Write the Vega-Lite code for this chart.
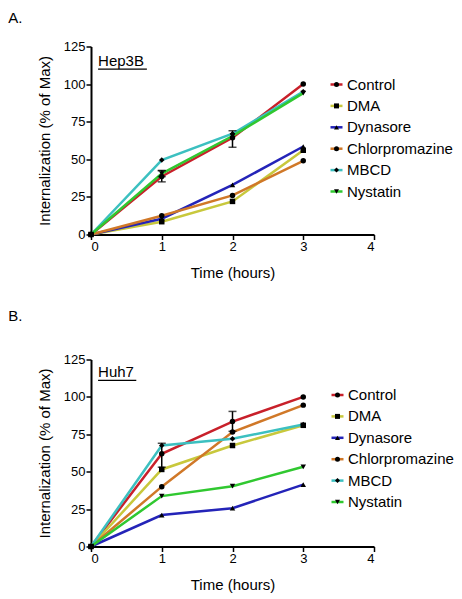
{
  "$schema": "https://vega.github.io/schema/vega-lite/v6.json",
  "padding": {"left": 8, "top": 10.5, "right": 0, "bottom": 0},
  "background": "white",
  "spacing": 28,
  "config": {
    "font": "Liberation Sans",
    "view": {"stroke": null},
    "axis": {
      "domainColor": "black", "domainWidth": 2, "tickColor": "black", "tickWidth": 1.5, "tickSize": 5,
      "labelColor": "black", "labelFontSize": 13, "labelFont": "Liberation Sans", "labelPadding": 1,
      "labelOverlap": false, "labelBound": false,
      "titleFontSize": 15, "titleFontWeight": "normal", "titleColor": "black", "titleFont": "Liberation Sans",
      "grid": false
    },
    "axisX": {"titlePadding": 12},
    "axisY": {"titlePadding": 11},
    "legend": {
      "labelFontSize": 15, "labelFont": "Liberation Sans", "labelColor": "black",
      "rowPadding": 5.4, "labelOffset": 3, "padding": 0, "title": null
    },
    "title": {"fontSize": 15, "fontWeight": "normal", "color": "black", "font": "Liberation Sans", "anchor": "start", "dx": -29}
  },
  "datasets": {
    "hep3b": [
      {"treatment": "Control", "t": 0, "v": 0}, {"treatment": "Control", "t": 1, "v": 38.6}, {"treatment": "Control", "t": 2, "v": 64.3}, {"treatment": "Control", "t": 3, "v": 100},
      {"treatment": "DMA", "t": 0, "v": 0}, {"treatment": "DMA", "t": 1, "v": 8.5}, {"treatment": "DMA", "t": 2, "v": 22}, {"treatment": "DMA", "t": 3, "v": 56},
      {"treatment": "Dynasore", "t": 0, "v": 0}, {"treatment": "Dynasore", "t": 1, "v": 10.5}, {"treatment": "Dynasore", "t": 2, "v": 33}, {"treatment": "Dynasore", "t": 3, "v": 58.5},
      {"treatment": "Chlorpromazine", "t": 0, "v": 0}, {"treatment": "Chlorpromazine", "t": 1, "v": 12.5}, {"treatment": "Chlorpromazine", "t": 2, "v": 26}, {"treatment": "Chlorpromazine", "t": 3, "v": 49},
      {"treatment": "MBCD", "t": 0, "v": 0}, {"treatment": "MBCD", "t": 1, "v": 49.5}, {"treatment": "MBCD", "t": 2, "v": 67}, {"treatment": "MBCD", "t": 3, "v": 95},
      {"treatment": "Nystatin", "t": 0, "v": 0}, {"treatment": "Nystatin", "t": 1, "v": 40.5}, {"treatment": "Nystatin", "t": 2, "v": 65.5}, {"treatment": "Nystatin", "t": 3, "v": 94}
    ],
    "huh7": [
      {"treatment": "Control", "t": 0, "v": 0}, {"treatment": "Control", "t": 1, "v": 62}, {"treatment": "Control", "t": 2, "v": 83.5}, {"treatment": "Control", "t": 3, "v": 100},
      {"treatment": "DMA", "t": 0, "v": 0}, {"treatment": "DMA", "t": 1, "v": 51.5}, {"treatment": "DMA", "t": 2, "v": 67.5}, {"treatment": "DMA", "t": 3, "v": 81},
      {"treatment": "Dynasore", "t": 0, "v": 0}, {"treatment": "Dynasore", "t": 1, "v": 21}, {"treatment": "Dynasore", "t": 2, "v": 25.6}, {"treatment": "Dynasore", "t": 3, "v": 41.4},
      {"treatment": "Chlorpromazine", "t": 0, "v": 0}, {"treatment": "Chlorpromazine", "t": 1, "v": 40}, {"treatment": "Chlorpromazine", "t": 2, "v": 76.5}, {"treatment": "Chlorpromazine", "t": 3, "v": 94.5},
      {"treatment": "MBCD", "t": 0, "v": 0}, {"treatment": "MBCD", "t": 1, "v": 67.5}, {"treatment": "MBCD", "t": 2, "v": 72}, {"treatment": "MBCD", "t": 3, "v": 81.5},
      {"treatment": "Nystatin", "t": 0, "v": 0}, {"treatment": "Nystatin", "t": 1, "v": 33.7}, {"treatment": "Nystatin", "t": 2, "v": 40.3}, {"treatment": "Nystatin", "t": 3, "v": 53.3}
    ],
    "errA": [
      {"treatment": "Control", "t": 1, "lo": 35, "hi": 42.5},
      {"treatment": "Control", "t": 2, "lo": 58, "hi": 69},
      {"treatment": "Nystatin", "t": 1, "lo": 38.5, "hi": 42.5}
    ],
    "errB": [
      {"treatment": "Control", "t": 1, "lo": 53, "hi": 69},
      {"treatment": "Control", "t": 2, "lo": 77, "hi": 90.3}
    ],
    "one": [{}]
  },
  "resolve": {
    "scale": {"color": "independent", "shape": "independent"},
    "legend": {"color": "independent", "shape": "independent"}
  },
  "vconcat": [
    {
      "title": {"text": "A.", "offset": 14.5},
      "width": 283, "height": 188,
      "layer": [
        {
          "data": {"name": "hep3b"},
          "mark": {"type": "line", "strokeWidth": 2.5},
          "encoding": {
            "x": {"field": "t", "type": "quantitative", "scale": {"domain": [0, 4], "nice": false}, "axis": {"values": [0, 1, 2, 3, 4], "format": "d", "title": "Time (hours)"}},
            "y": {"field": "v", "type": "quantitative", "scale": {"domain": [0, 125], "nice": false}, "axis": {"values": [0, 25, 50, 75, 100, 125], "title": "Internalization (% of Max)"}},
            "color": {"field": "treatment", "type": "nominal",
              "scale": {"domain": ["Control", "DMA", "Dynasore", "Chlorpromazine", "MBCD", "Nystatin"], "range": ["#c8202a", "#c8c83c", "#2424b8", "#d07828", "#3cc0c0", "#30c830"]},
              "legend": {"orient": "none", "legendX": 238, "legendY": 30.5, "symbolType": "stroke", "symbolSize": 144, "symbolStrokeWidth": 2.5}}
          }
        },
        {
          "data": {"name": "errA"},
          "mark": {"type": "rule", "color": "black", "strokeWidth": 1.5},
          "encoding": {
            "x": {"field": "t", "type": "quantitative", "axis": {"values": [0, 1, 2, 3, 4], "format": "d", "title": "Time (hours)"}},
            "y": {"field": "lo", "type": "quantitative", "axis": {"values": [0, 25, 50, 75, 100, 125], "title": "Internalization (% of Max)"}},
            "y2": {"field": "hi"}
          }
        },
        {
          "data": {"name": "errA"},
          "mark": {"type": "tick", "orient": "horizontal", "color": "black", "thickness": 1.5, "size": 8},
          "encoding": {
            "x": {"field": "t", "type": "quantitative", "axis": {"values": [0, 1, 2, 3, 4], "format": "d", "title": "Time (hours)"}},
            "y": {"field": "lo", "type": "quantitative", "axis": {"values": [0, 25, 50, 75, 100, 125], "title": "Internalization (% of Max)"}}
          }
        },
        {
          "data": {"name": "errA"},
          "mark": {"type": "tick", "orient": "horizontal", "color": "black", "thickness": 1.5, "size": 8},
          "encoding": {
            "x": {"field": "t", "type": "quantitative", "axis": {"values": [0, 1, 2, 3, 4], "format": "d", "title": "Time (hours)"}},
            "y": {"field": "hi", "type": "quantitative", "axis": {"values": [0, 25, 50, 75, 100, 125], "title": "Internalization (% of Max)"}}
          }
        },
        {
          "data": {"name": "hep3b"},
          "mark": {"type": "point", "filled": true, "color": "black", "size": 30, "opacity": 1},
          "encoding": {
            "x": {"field": "t", "type": "quantitative", "axis": {"values": [0, 1, 2, 3, 4], "format": "d", "title": "Time (hours)"}},
            "y": {"field": "v", "type": "quantitative", "axis": {"values": [0, 25, 50, 75, 100, 125], "title": "Internalization (% of Max)"}},
            "shape": {"field": "treatment", "type": "nominal",
              "sort": ["Control", "DMA", "Dynasore", "Chlorpromazine", "MBCD", "Nystatin"],
              "scale": {"range": ["circle", "square", "triangle-up", "circle", "diamond", "triangle-down"]},
              "legend": {"orient": "none", "legendX": 238, "legendY": 30.5, "symbolSize": 25, "symbolFillColor": "black", "symbolStrokeWidth": 0, "labelOpacity": 0}}
          }
        },
        {
          "data": {"name": "one"},
          "mark": {"type": "text", "align": "left", "baseline": "alphabetic", "fontSize": 15, "color": "black"},
          "encoding": {
            "x": {"datum": 0.1, "type": "quantitative", "axis": {"values": [0, 1, 2, 3, 4], "format": "d", "title": "Time (hours)"}},
            "y": {"datum": 112, "type": "quantitative", "axis": {"values": [0, 25, 50, 75, 100, 125], "title": "Internalization (% of Max)"}},
            "text": {"value": "Hep3B"}
          }
        },
        {
          "data": {"name": "one"},
          "mark": {"type": "rule", "color": "black", "strokeWidth": 1.2},
          "encoding": {
            "x": {"datum": 0.1, "type": "quantitative", "axis": {"values": [0, 1, 2, 3, 4], "format": "d", "title": "Time (hours)"}},
            "x2": {"datum": 0.79},
            "y": {"datum": 110, "type": "quantitative", "axis": {"values": [0, 25, 50, 75, 100, 125], "title": "Internalization (% of Max)"}}
          }
        }
      ]
    },
    {
      "title": {"text": "B.", "offset": 30},
      "width": 283, "height": 187,
      "layer": [
        {
          "data": {"name": "huh7"},
          "mark": {"type": "line", "strokeWidth": 2.5},
          "encoding": {
            "x": {"field": "t", "type": "quantitative", "scale": {"domain": [0, 4], "nice": false}, "axis": {"values": [0, 1, 2, 3, 4], "format": "d", "title": "Time (hours)"}},
            "y": {"field": "v", "type": "quantitative", "scale": {"domain": [0, 125], "nice": false}, "axis": {"values": [0, 25, 50, 75, 100, 125], "title": "Internalization (% of Max)"}},
            "color": {"field": "treatment", "type": "nominal",
              "scale": {"domain": ["Control", "DMA", "Dynasore", "Chlorpromazine", "MBCD", "Nystatin"], "range": ["#c8202a", "#c8c83c", "#2424b8", "#d07828", "#3cc0c0", "#30c830"]},
              "legend": {"orient": "none", "legendX": 239, "legendY": 28, "symbolType": "stroke", "symbolSize": 144, "symbolStrokeWidth": 2.5}}
          }
        },
        {
          "data": {"name": "errB"},
          "mark": {"type": "rule", "color": "black", "strokeWidth": 1.5},
          "encoding": {
            "x": {"field": "t", "type": "quantitative", "axis": {"values": [0, 1, 2, 3, 4], "format": "d", "title": "Time (hours)"}},
            "y": {"field": "lo", "type": "quantitative", "axis": {"values": [0, 25, 50, 75, 100, 125], "title": "Internalization (% of Max)"}},
            "y2": {"field": "hi"}
          }
        },
        {
          "data": {"name": "errB"},
          "mark": {"type": "tick", "orient": "horizontal", "color": "black", "thickness": 1.5, "size": 8},
          "encoding": {
            "x": {"field": "t", "type": "quantitative", "axis": {"values": [0, 1, 2, 3, 4], "format": "d", "title": "Time (hours)"}},
            "y": {"field": "lo", "type": "quantitative", "axis": {"values": [0, 25, 50, 75, 100, 125], "title": "Internalization (% of Max)"}}
          }
        },
        {
          "data": {"name": "errB"},
          "mark": {"type": "tick", "orient": "horizontal", "color": "black", "thickness": 1.5, "size": 8},
          "encoding": {
            "x": {"field": "t", "type": "quantitative", "axis": {"values": [0, 1, 2, 3, 4], "format": "d", "title": "Time (hours)"}},
            "y": {"field": "hi", "type": "quantitative", "axis": {"values": [0, 25, 50, 75, 100, 125], "title": "Internalization (% of Max)"}}
          }
        },
        {
          "data": {"name": "huh7"},
          "mark": {"type": "point", "filled": true, "color": "black", "size": 30, "opacity": 1},
          "encoding": {
            "x": {"field": "t", "type": "quantitative", "axis": {"values": [0, 1, 2, 3, 4], "format": "d", "title": "Time (hours)"}},
            "y": {"field": "v", "type": "quantitative", "axis": {"values": [0, 25, 50, 75, 100, 125], "title": "Internalization (% of Max)"}},
            "shape": {"field": "treatment", "type": "nominal",
              "sort": ["Control", "DMA", "Dynasore", "Chlorpromazine", "MBCD", "Nystatin"],
              "scale": {"range": ["circle", "square", "triangle-up", "circle", "diamond", "triangle-down"]},
              "legend": {"orient": "none", "legendX": 239, "legendY": 28, "symbolSize": 25, "symbolFillColor": "black", "symbolStrokeWidth": 0, "labelOpacity": 0}}
          }
        },
        {
          "data": {"name": "one"},
          "mark": {"type": "text", "align": "left", "baseline": "alphabetic", "fontSize": 15, "color": "black"},
          "encoding": {
            "x": {"datum": 0.1, "type": "quantitative", "axis": {"values": [0, 1, 2, 3, 4], "format": "d", "title": "Time (hours)"}},
            "y": {"datum": 113, "type": "quantitative", "axis": {"values": [0, 25, 50, 75, 100, 125], "title": "Internalization (% of Max)"}},
            "text": {"value": "Huh7"}
          }
        },
        {
          "data": {"name": "one"},
          "mark": {"type": "rule", "color": "black", "strokeWidth": 1.2},
          "encoding": {
            "x": {"datum": 0.1, "type": "quantitative", "axis": {"values": [0, 1, 2, 3, 4], "format": "d", "title": "Time (hours)"}},
            "x2": {"datum": 0.64},
            "y": {"datum": 111, "type": "quantitative", "axis": {"values": [0, 25, 50, 75, 100, 125], "title": "Internalization (% of Max)"}}
          }
        }
      ]
    }
  ]
}
